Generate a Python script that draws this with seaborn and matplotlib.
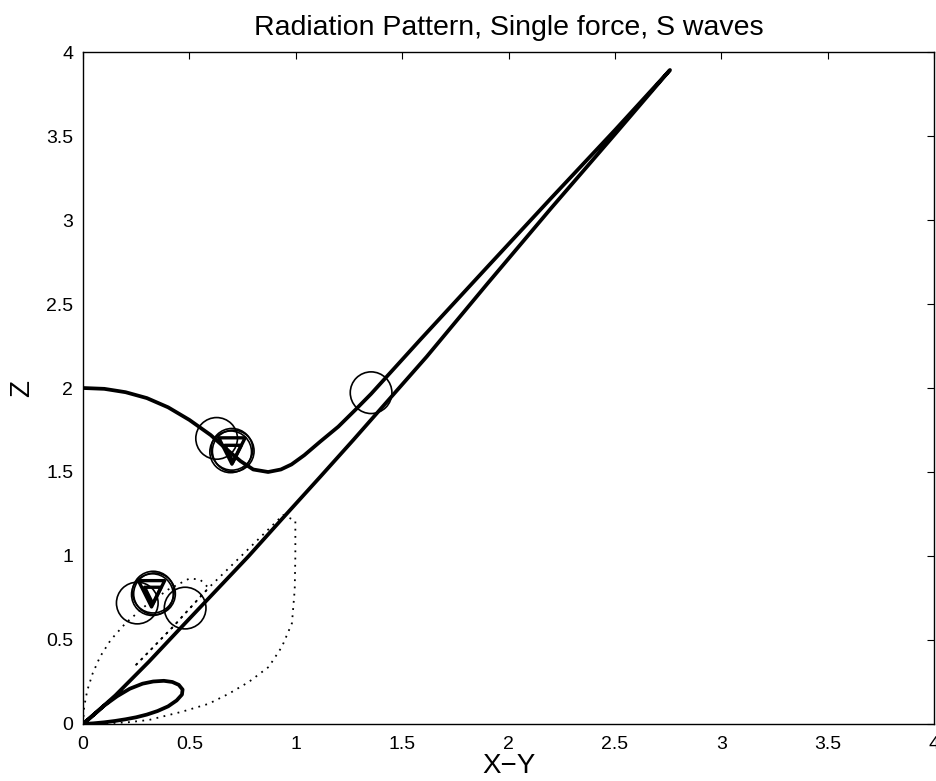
import numpy as np
import pandas as pd
import matplotlib
matplotlib.use("Agg")
import matplotlib.pyplot as plt
import seaborn as sns

# ---- data ----
# solid curve: upper branch from (0,2) to the tip, back down the lower branch, then the small loop
solid_x = [0.0, 0.1, 0.2, 0.3, 0.4, 0.5, 0.6, 0.675, 0.74, 0.8, 0.87, 0.93, 0.98, 1.04, 1.114,
           1.2, 1.28, 1.354, 1.584, 1.9, 2.2, 2.5, 2.759,
           2.5, 2.2, 1.9, 1.615, 1.27, 1.114, 0.935, 0.779, 0.622, 0.465, 0.309, 0.152, 0.05, 0.0,
           0.05, 0.1, 0.15, 0.2, 0.25, 0.3, 0.35, 0.4, 0.44, 0.465, 0.468, 0.45, 0.42, 0.38,
           0.33, 0.28, 0.22, 0.16, 0.1, 0.05, 0.0]
solid_y = [2.0, 1.995, 1.975, 1.94, 1.885, 1.81, 1.72, 1.635, 1.565, 1.515, 1.50, 1.515, 1.545, 1.6, 1.68,
           1.77, 1.87, 1.965, 2.286, 2.72, 3.13, 3.535, 3.893,
           3.51, 3.07, 2.62, 2.186, 1.69, 1.47, 1.22, 1.0, 0.79, 0.58, 0.37, 0.17, 0.055, 0.0,
           0.004, 0.01, 0.018, 0.028, 0.04, 0.056, 0.077, 0.105, 0.14, 0.175, 0.205, 0.233, 0.25, 0.257,
           0.253, 0.24, 0.21, 0.165, 0.11, 0.055, 0.0]

# dotted curve
dot_x = [0.0, 0.005, 0.02, 0.045, 0.08, 0.13, 0.2, 0.29, 0.4, 0.5, 0.55, 0.59,
         0.42, 0.24, 0.42, 0.59, 0.76, 0.94, 0.998, 0.998, 0.995, 0.982, 0.935, 0.873,
         0.779, 0.685, 0.59, 0.465, 0.31, 0.21, 0.1, 0.0]
dot_y = [0.0, 0.1, 0.2, 0.3, 0.4, 0.5, 0.6, 0.7, 0.8, 0.866, 0.86, 0.81,
         0.575, 0.34, 0.575, 0.81, 1.02, 1.244, 1.21, 1.0, 0.8, 0.6, 0.46, 0.34,
         0.25, 0.18, 0.12, 0.073, 0.024, 0.01, 0.003, 0.0]

# circle markers
circ_x = [0.628, 0.700, 0.706, 0.694, 1.354, 0.255, 0.330, 0.336, 0.326, 0.480]
circ_y = [1.700, 1.635, 1.625, 1.620, 1.972, 0.720, 0.785, 0.775, 0.770, 0.690]

# triangle markers (big and small)
tri_big_x = [0.700, 0.322]
tri_big_y = [1.625, 0.775]
tri_small_x = [0.705, 0.328]
tri_small_y = [1.610, 0.765]

x_ticks = [0, 0.5, 1, 1.5, 2, 2.5, 3, 3.5, 4]
x_tick_labels = ["0", "0.5", "1", "1.5", "2", "2.5", "3", "3.5", "4"]
y_ticks = [0, 0.5, 1, 1.5, 2, 2.5, 3, 3.5, 4]
y_tick_labels = ["0", "0.5", "1", "1.5", "2", "2.5", "3", "3.5", "4"]

# ---- plotting ----
sns.set_theme(style="white")
plt.rcParams["font.family"] = ["Liberation Sans", "DejaVu Sans"]
plt.rcParams["axes.unicode_minus"] = True

fig = plt.figure(figsize=(9.36, 7.81), dpi=100)
ax = fig.add_axes([0.0887, 0.073, 0.9092, 0.8604])

solid_df = pd.DataFrame({"x": solid_x, "y": solid_y})
dot_df = pd.DataFrame({"x": dot_x, "y": dot_y})

sns.lineplot(data=solid_df, x="x", y="y", sort=False, estimator=None, color="black",
             linewidth=2.7, ax=ax, solid_joinstyle="round", solid_capstyle="round")
sns.lineplot(data=dot_df, x="x", y="y", sort=False, estimator=None, color="black",
             linewidth=1.3, linestyle=(0, (1, 3)), ax=ax)

sns.scatterplot(x=circ_x, y=circ_y, marker="o", s=900, facecolor="none",
                edgecolor="black", linewidth=1.2, ax=ax, zorder=4)
sns.scatterplot(x=tri_big_x, y=tri_big_y, marker="v", s=360, facecolor="none",
                edgecolor="black", linewidth=2.4, ax=ax, zorder=5)
sns.scatterplot(x=tri_small_x, y=tri_small_y, marker="v", s=140, facecolor="none",
                edgecolor="black", linewidth=2.4, ax=ax, zorder=5)

ax.set_xlim(0, 4)
ax.set_ylim(0, 4)
ax.set_xticks(x_ticks)
ax.set_xticklabels(x_tick_labels)
ax.set_yticks(y_ticks)
ax.set_yticklabels(y_tick_labels)
ax.tick_params(direction="in", length=5, width=0.8, top=True, right=True,
               labelsize=14, colors="black", pad=7)
ax.tick_params(axis="x", pad=9)
for sp in ax.spines.values():
    sp.set_visible(True)
    sp.set_color("black")
    sp.set_linewidth(1.0)

ax.set_title("Radiation Pattern, Single force, S waves", fontsize=20.5, pad=12, color="black")
ax.set_xlabel("X\u2212Y", fontsize=20, labelpad=0, color="black")
ax.set_ylabel("Z", fontsize=20, labelpad=8, color="black")
ax.grid(False)

fig.savefig("out.png", dpi=100)
